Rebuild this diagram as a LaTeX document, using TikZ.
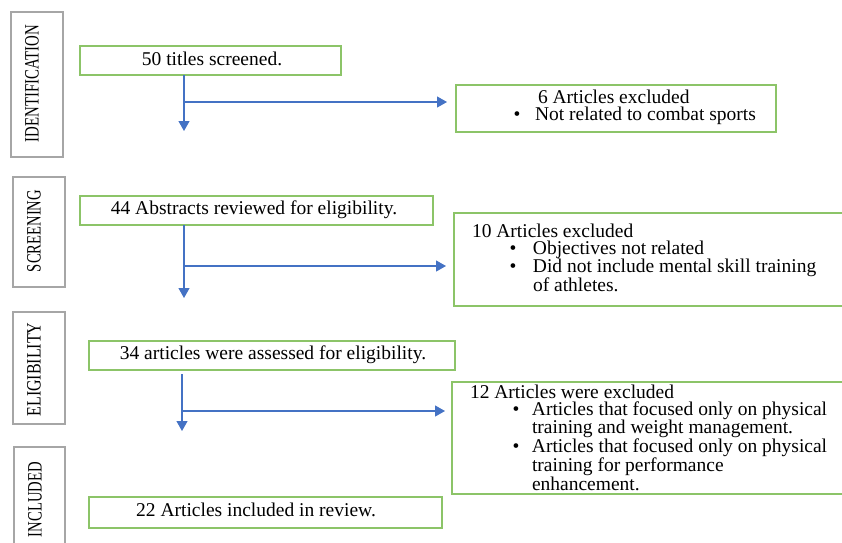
\documentclass[tikz,border=0pt]{standalone}
\usepackage{fontspec}
\setmainfont{Liberation Serif}
\usetikzlibrary{arrows.meta}
\definecolor{gbord}{RGB}{140,196,104}
\definecolor{abl}{RGB}{68,114,196}
\definecolor{lgray}{RGB}{166,166,166}
\newcommand{\bitem}[3]{\par\noindent\hangindent=#2\hangafter=1\hspace*{#1}\makebox[0pt]{\textbullet}\hspace*{\dimexpr#2-#1\relax}#3}
\newcommand{\exblock}[1]{\parbox[t]{400pt}{\raggedright\fontsize{19.5}{17.2}\selectfont\noindent #1}}
\begin{document}
\begin{tikzpicture}[x=1pt,y=-1pt,
  font=\fontsize{19.5}{17.2}\selectfont,
  gbox/.style={draw=gbord,line width=1.3pt,inner sep=0pt,outer sep=0pt,anchor=north west},
  lbox/.style={draw=lgray,line width=1.2pt,inner sep=0pt,outer sep=0pt,anchor=north west},
  txt/.style={inner sep=0pt,outer sep=0pt},
  arr/.style={draw=abl,line width=1.2pt,-{Triangle[width=11pt,length=10pt]}}]
\clip (0,0) rectangle (842,542);
% stage label boxes
\node[lbox,minimum width=52pt,minimum height=145pt] (lid) at (11,12) {};
\node[lbox,minimum width=52pt,minimum height=110pt] (lsc) at (13,177) {};
\node[lbox,minimum width=52pt,minimum height=112pt] (lel) at (13,312) {};
\node[lbox,minimum width=51pt,minimum height=110pt] (lin) at (14,447) {};
\node[txt,rotate=90] (lidt) at (32,83.5) {\resizebox{117pt}{13.5pt}{IDENTIFICATION}};
\node[txt,rotate=90] (lsct) at (34,231) {\resizebox{82pt}{13.5pt}{SCREENING}};
\node[txt,rotate=90] (lelt) at (34,369.5) {\resizebox{94pt}{13.5pt}{ELIGIBILITY}};
\node[txt,rotate=90] (lint) at (35,499.5) {\resizebox{75pt}{13.5pt}{INCLUDED}};
% main boxes
\node[gbox,minimum width=261pt,minimum height=29pt] (b1) at (80,46) {};
\node[gbox,minimum width=353pt,minimum height=29pt] (b2) at (80,196) {};
\node[gbox,minimum width=366pt,minimum height=29pt] (b3) at (89,341) {};
\node[gbox,minimum width=353pt,minimum height=31pt] (b4) at (89,497) {};
\node[txt,anchor=base] (b1t) at (212,65) {50 titles screened.};
\node[txt,anchor=base] (b2t) at (254,214) {44 Abstracts reviewed for eligibility.};
\node[txt,anchor=base] (b3t) at (273,359) {34 articles were assessed for eligibility.};
\node[txt,anchor=base] (b4t) at (256,516) {22 Articles included in review.};
% exclusion boxes
\node[gbox,minimum width=320pt,minimum height=47pt] (e1) at (456,85) {};
\node[gbox,minimum width=400pt,minimum height=93pt] (e2) at (454,213) {};
\node[gbox,minimum width=400pt,minimum height=112pt] (e3) at (452,382) {};
\node[txt,anchor=base west] (e1t) at (500,103) {\exblock{\hspace*{38pt}6 Articles excluded\bitem{17pt}{35pt}{Not related to combat sports}}};
\node[txt,anchor=base west] (e2t) at (472,237) {\exblock{10 Articles excluded\bitem{41pt}{61pt}{Objectives not related}\bitem{41pt}{61pt}{Did not include mental skill training\newline of athletes.}}};
\node[txt,anchor=base west] (e3t) at (470,398) {\exblock{12 Articles were excluded\bitem{46pt}{62pt}{Articles that focused only on physical\newline training and weight management.}\bitem{46pt}{62pt}{Articles that focused only on physical\newline training for performance\newline enhancement.}}};
% connectors
\coordinate (t1) at (184,131);
\coordinate (j1) at (184,102);
\coordinate (t2) at (184,298);
\coordinate (j2) at (184,266);
\coordinate (t3) at (182,431);
\coordinate (j3) at (182,411);
\coordinate (s3) at (182,374);
\draw[arr] (b1.south -| t1) -- (t1);
\draw[arr,shorten >=9pt] (j1) -- (e1.west |- j1);
\draw[arr] (b2.south -| t2) -- (t2);
\draw[arr,shorten >=8pt] (j2) -- (e2.west |- j2);
\draw[arr] (s3) -- (t3);
\draw[arr,shorten >=7pt] (j3) -- (e3.west |- j3);
\end{tikzpicture}
\end{document}
